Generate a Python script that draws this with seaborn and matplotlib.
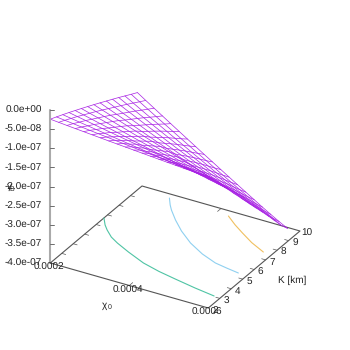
import numpy as np
import pandas as pd
import matplotlib
matplotlib.use('Agg')
import matplotlib.pyplot as plt
import seaborn as sns

chi_vals = [2.000e-4, 2.211e-4, 2.422e-4, 2.633e-4, 2.844e-4, 3.056e-4, 3.267e-4, 3.478e-4, 3.689e-4, 3.900e-4,
            4.111e-4, 4.322e-4, 4.533e-4, 4.744e-4, 4.956e-4, 5.167e-4, 5.378e-4, 5.589e-4, 5.800e-4]
k_vals = [2.00, 2.54, 3.09, 3.63, 4.17, 4.71, 5.26, 5.80, 6.34, 6.89, 7.43, 7.97, 8.51, 9.06, 9.60]

z_rows = [
    [2.40, 2.60, 2.80, 2.99, 3.18, 3.37, 3.55, 3.74, 3.91, 4.09, 4.27, 4.44, 4.62, 4.79, 4.96, 5.13, 5.30, 5.46, 5.63],
    [3.16, 3.43, 3.68, 3.94, 4.19, 4.44, 4.68, 4.92, 5.15, 5.39, 5.62, 5.85, 6.08, 6.31, 6.53, 6.75, 6.97, 7.19, 7.41],
    [3.96, 4.32, 4.67, 5.02, 5.36, 5.70, 6.04, 6.37, 6.70, 7.03, 7.36, 7.68, 8.00, 8.32, 8.64, 8.96, 9.27, 9.58, 9.89],
    [4.76, 5.19, 5.61, 6.03, 6.45, 6.85, 7.26, 7.66, 8.06, 8.45, 8.85, 9.23, 9.62, 10.01, 10.39, 10.77, 11.14, 11.52, 11.89],
    [5.59, 6.12, 6.64, 7.16, 7.68, 8.18, 8.69, 9.20, 9.69, 10.20, 10.69, 11.19, 11.68, 12.16, 12.65, 13.13, 13.62, 14.09, 14.57],
    [6.43, 7.04, 7.64, 8.24, 8.83, 9.41, 10.00, 10.58, 11.15, 11.73, 12.30, 12.87, 13.43, 13.99, 14.55, 15.10, 15.66, 16.21, 16.76],
    [7.30, 7.99, 8.67, 9.35, 10.02, 10.69, 11.35, 12.01, 12.66, 13.32, 13.96, 14.61, 15.25, 15.88, 16.52, 17.15, 17.78, 18.40, 19.03],
    [8.16, 8.94, 9.69, 10.45, 11.20, 11.95, 12.69, 13.42, 14.15, 14.88, 15.61, 16.33, 17.05, 17.76, 18.47, 19.17, 19.88, 20.57, 21.27],
    [9.05, 9.94, 10.81, 11.68, 12.55, 13.42, 14.28, 15.14, 15.99, 16.84, 17.69, 18.53, 19.38, 20.21, 21.04, 21.87, 22.71, 23.53, 24.36],
    [9.96, 10.94, 11.90, 12.86, 13.81, 14.77, 15.72, 16.66, 17.60, 18.54, 19.47, 20.40, 21.32, 22.24, 23.16, 24.07, 24.99, 25.90, 26.81],
    [10.85, 11.91, 12.97, 14.01, 15.05, 16.09, 17.12, 18.15, 19.17, 20.19, 21.21, 22.22, 23.23, 24.23, 25.23, 26.22, 27.22, 28.21, 29.21],
    [11.76, 12.91, 14.05, 15.18, 16.31, 17.44, 18.56, 19.67, 20.78, 21.89, 22.99, 24.08, 25.18, 26.26, 27.34, 28.42, 29.51, 30.58, 31.66],
    [12.70, 13.94, 15.18, 16.40, 17.61, 18.83, 20.04, 21.25, 22.44, 23.63, 24.83, 26.01, 27.19, 28.36, 29.53, 30.70, 31.86, 33.02, 34.19],
    [13.66, 15.00, 16.32, 17.64, 18.95, 20.26, 21.56, 22.85, 24.14, 25.42, 26.71, 27.98, 29.25, 30.50, 31.76, 33.02, 34.27, 35.52, 36.77],
    [14.57, 16.00, 17.41, 18.81, 20.21, 21.61, 22.99, 24.38, 25.75, 27.11, 28.48, 29.84, 31.19, 32.53, 33.88, 35.22, 36.50, 37.75, 38.90],
]

# contours on the floor
green_chi = [2.00e-4, 2.18e-4, 2.33e-4, 2.57e-4, 2.82e-4, 3.23e-4, 3.76e-4, 4.24e-4, 4.72e-4, 5.30e-4, 5.84e-4]
green_k = [6.68, 6.16, 5.82, 5.36, 5.03, 4.58, 4.06, 3.75, 3.52, 3.26, 3.06]
blue_chi = [2.79e-4, 2.96e-4, 3.10e-4, 3.40e-4, 3.76e-4, 4.20e-4, 4.67e-4, 5.12e-4, 5.46e-4, 5.78e-4]
blue_k = [9.67, 9.15, 8.78, 8.10, 7.38, 6.65, 6.06, 5.65, 5.50, 5.38]
orange_chi = [4.31e-4, 4.63e-4, 4.96e-4, 5.35e-4, 5.78e-4]
orange_k = [9.58, 9.05, 8.57, 8.03, 7.56]

z_ticks = [0, -0.5e-7, -1e-7, -1.5e-7, -2e-7, -2.5e-7, -3e-7, -3.5e-7, -4e-7]
z_labels = ['0.0e+00', '-5.0e-08', '-1.0e-07', '-1.5e-07', '-2.0e-07', '-2.5e-07', '-3.0e-07', '-3.5e-07', '-4.0e-07']
k_ticks = [2, 3, 4, 5, 6, 7, 8, 9, 10]
chi_ticks = [2e-4, 4e-4, 6e-4]
chi_labels = ['0.0002', '0.0004', '0.0006']


def proj(chi, k, z=-4e-7):
    a = (np.asarray(chi) - 2e-4) / 4e-4
    b = (np.asarray(k) - 2) / 8
    h = (np.asarray(z) + 4e-7) / 4e-7
    return 50.3 + 158 * a + 91.7 * b, 263 + 45 * a - 77 * b - 153 * h


def draw(chi, k, z=-4e-7, color='#555555', lw=0.8):
    sx, sy = proj(chi, k, z)
    df = pd.DataFrame({'sx': sx, 'sy': sy})
    sns.lineplot(data=df, x='sx', y='sy', sort=False, estimator=None, color=color, lw=lw, ax=ax, legend=False)


sns.set_style('white')
plt.rcParams['font.family'] = ['Liberation Sans', 'DejaVu Sans']
plt.rcParams['text.hinting'] = 'none'
plt.rcParams['text.hinting_factor'] = 1
fig = plt.figure(figsize=(3.5, 3.5), dpi=100)
ax = fig.add_axes([0, 0, 1, 1])

# floor box
draw([2e-4, 6e-4, 6e-4, 2e-4, 2e-4], [2, 2, 10, 10, 2])
for k in k_ticks[1:-1]:
    draw([2e-4, 2.1e-4], [k, k], lw=0.5)
    draw([6e-4, 5.9e-4], [k, k], lw=0.5)
draw([4e-4, 4e-4], [2, 2.3], lw=0.5)
draw([4e-4, 4e-4], [10, 9.7], lw=0.5)

draw(green_chi, green_k, color='#4fc4a4', lw=0.8)
draw(blue_chi, blue_k, color='#8fd0f0', lw=0.8)
draw(orange_chi, orange_k, color='#f0c060', lw=0.8)

# wire mesh
z_grid = -np.array(z_rows) * 1e-8
purple = '#a822e4'
for i, k in enumerate(k_vals):
    draw(chi_vals, [k] * len(chi_vals), z_grid[i], color=purple, lw=0.5)
for j, chi in enumerate(chi_vals):
    draw([chi] * len(k_vals), k_vals, z_grid[:, j], color=purple, lw=0.5)

# z axis
draw([2e-4, 2e-4], [2, 2], [-4e-7, 0], color='#aaaaaa', lw=1.5)
fs = 7
for z, lab in zip(z_ticks, z_labels):
    sx, sy = proj(2e-4, 2, z)
    ax.plot([sx, sx + 4], [sy, sy], color='#555555', lw=0.6)
    ax.text(42, sy + 0.5, lab, ha='right', va='center', fontsize=fs, color='#222222')

ax.text(49, 267, chi_labels[0], ha='center', va='center', fontsize=fs, color='#222222')
ax.text(128, 290, chi_labels[1], ha='center', va='center', fontsize=fs, color='#222222')
ax.text(207, 312, chi_labels[2], ha='center', va='center', fontsize=fs, color='#222222')
for k in k_ticks:
    sx, sy = proj(6e-4, k)
    ax.text(sx + 6.5, sy + 2.5, str(k), ha='center', va='center', fontsize=fs, color='#222222')

ax.text(292, 280, 'K [km]', ha='center', va='center', fontsize=fs, color='#222222')
ax.text(105, 305, 'χ', ha='center', va='center', fontsize=fs, color='#222222')
ax.text(110, 307.5, '0', ha='center', va='center', fontsize=5, color='#222222')
ax.text(9.5, 186, 'γ', ha='center', va='center', fontsize=fs, color='#222222')
ax.text(12, 189, 'B', ha='center', va='center', fontsize=5, color='#222222')

ax.set_xlim(0, 350)
ax.set_ylim(350, 0)
ax.axis('off')
fig.savefig('out.png', dpi=100)
